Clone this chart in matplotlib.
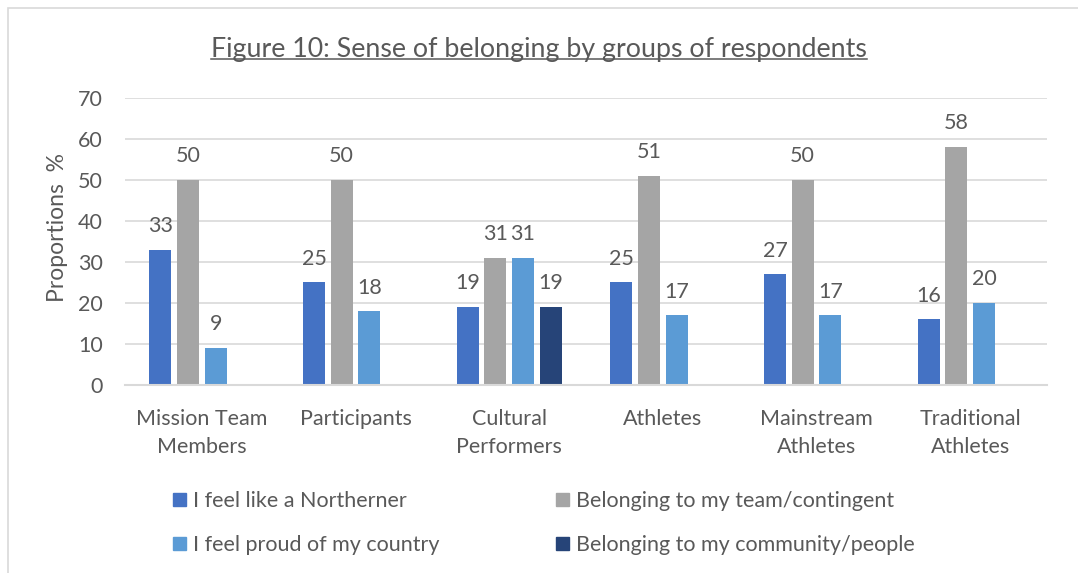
import matplotlib
matplotlib.use('Agg')
import matplotlib.pyplot as plt
import numpy as np
from matplotlib.patches import Rectangle, Patch
from matplotlib.lines import Line2D

plt.rcParams['font.family'] = ['Lato', 'DejaVu Sans']

groups = ['Mission Team\nMembers', 'Participants', 'Cultural\nPerformers',
          'Athletes', 'Mainstream\nAthletes', 'Traditional\nAthletes']
series_names = ['I feel like a Northerner', 'Belonging to my team/contingent',
                'I feel proud of my country', 'Belonging to my community/people']
northerner = [33, 25, 19, 25, 27, 16]
team = [50, 50, 31, 51, 50, 58]
country = [9, 18, 31, 17, 17, 20]
community = [np.nan, np.nan, 19, np.nan, np.nan, np.nan]

colors = ['#4472C4', '#A5A5A5', '#5B9BD5', '#264478']
txt = '#595959'
grid = '#D9D9D9'
fs = 15.5

W, H = 1078, 573
fig = plt.figure(figsize=(W / 100, H / 100), dpi=100)
ax = fig.add_axes([125 / W, 1 - 385 / H, 922 / W, (385 - 97.7) / H])

x = np.arange(len(groups))
slot = 0.18
width = 0.144
all_series = [northerner, team, country, community]
for i, vals in enumerate(all_series):
    vals = np.array(vals, dtype=float)
    ok = ~np.isnan(vals)
    pos = x[ok] + (i - 1.5) * slot
    ax.bar(pos, vals[ok], width=width, color=colors[i], zorder=3)
    for px, v in zip(pos, vals[ok]):
        ax.annotate('{:d}'.format(int(v)), (px, v), xytext=(0, 17),
                    textcoords='offset points', ha='center', va='center',
                    fontsize=fs, color=txt)

ax.set_xlim(-0.5, len(groups) - 0.5)
ax.set_ylim(0, 70)
ax.set_yticks(range(0, 71, 10))
ax.set_xticks(x)
ax.set_xticklabels(groups, fontsize=fs, color=txt, linespacing=1.55)
ax.tick_params(axis='y', length=0, pad=16, labelsize=fs, labelcolor=txt)
ax.tick_params(axis='x', length=0, pad=17)
ax.yaxis.grid(True, color=grid, linewidth=1.2, zorder=0)
for s in ['top', 'right', 'left']:
    ax.spines[s].set_visible(False)
ax.spines['bottom'].set_color(grid)
ax.spines['bottom'].set_linewidth(1.5)
ax.spines['bottom'].set_zorder(4)

fig.text(57 / W, 1 - 228 / H, 'Proportions  %', rotation=90, ha='center',
         va='center', fontsize=16.5, color=txt)

title = fig.text(0.5, 1 - 49 / H, 'Figure 10: Sense of belonging by groups of respondents',
                 ha='center', va='center', fontsize=19.3, color=txt)

# outer chart frame
fig.patches.append(Rectangle((8 / W, -0.1), 1.2, 1 - 8 / H + 0.1, transform=fig.transFigure,
                             fill=False, edgecolor=grid, linewidth=1.2))

# legend as two single-column legends
h = [Patch(color=c) for c in colors]
leg_kw = dict(frameon=False, fontsize=fs, labelcolor=txt, handlelength=0.6,
              handleheight=0.6, handletextpad=0.35, labelspacing=1.12,
              borderpad=0, borderaxespad=0, loc='upper left')
leg1 = fig.legend([h[0], h[2]], [series_names[0], series_names[2]],
                  bbox_to_anchor=(173 / W, 1 - 491 / H), **leg_kw)
leg2 = fig.legend([h[1], h[3]], [series_names[1], series_names[3]],
                  bbox_to_anchor=(556 / W, 1 - 491 / H), **leg_kw)

# underline the title
fig.canvas.draw()
bb = title.get_window_extent().transformed(fig.transFigure.inverted())
uy = bb.y0 + 3 / H
fig.add_artist(Line2D([bb.x0, bb.x1], [uy, uy], transform=fig.transFigure,
                      color=txt, linewidth=1.1))

fig.savefig('out.png', dpi=100)
